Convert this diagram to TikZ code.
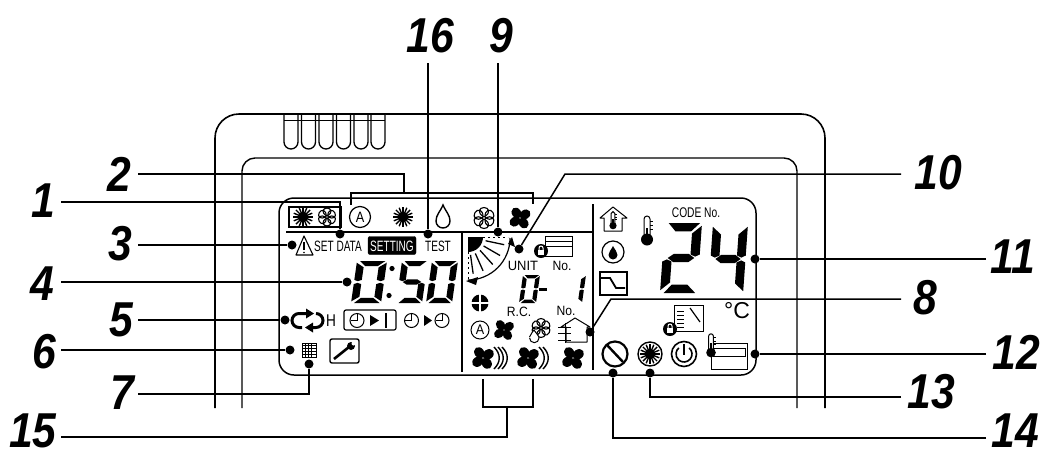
\documentclass[tikz,border=0pt]{standalone}
\usepackage{fontspec}
\setmainfont{Liberation Sans}
\tikzset{
  lead/.style={line width=1.5pt,black},
  body/.style={line width=1.6pt,black,rounded corners=24pt},
  inner/.style={line width=1.4pt,black,rounded corners=13pt},
  lcd/.style={line width=1.5pt,black,rounded corners=15pt},
  dotn/.style={circle,fill=black,inner sep=0pt,minimum size=9pt},
  lab/.style={font=\fontsize{49}{49}\selectfont\bfseries\itshape,xscale=.87,inner sep=0pt,black},
  txt/.style={inner sep=0pt,black,font=\fontsize{#1}{#1}\selectfont},
  icon/.style={line width=1pt,black},
}
\newcommand\sgA{\fill (.1,0)--(.95,0)--(.72,.12)--(.3,.12)--cycle;}
\newcommand\sgB{\fill (1,.04)--(1,.45)--(.88,.48)--(.75,.45)--(.75,.15)--cycle;}
\newcommand\sgC{\fill (1,.55)--(1,.96)--(.75,.85)--(.75,.55)--(.88,.52)--cycle;}
\newcommand\sgD{\fill (.1,1)--(.95,1)--(.72,.88)--(.3,.88)--cycle;}
\newcommand\sgE{\fill (0,.55)--(0,.96)--(.25,.85)--(.25,.55)--(.12,.52)--cycle;}
\newcommand\sgF{\fill (0,.04)--(0,.45)--(.12,.48)--(.25,.45)--(.25,.15)--cycle;}
\newcommand\sgG{\fill (.14,.5)--(.3,.44)--(.7,.44)--(.86,.5)--(.7,.56)--(.3,.56)--cycle;}
% x y w h slant segments
\newcommand\segdigit[6]{\begin{scope}[shift={(#1,#2)},x={(#3pt,0pt)},y={(-#5pt,-#4pt)}]#6\end{scope}}
\newcommand\fanicon[3]{\begin{scope}[shift={(#1,#2)},scale=#3]
 \foreach \a in {35,125,215,305}{\fill[rotate=\a] (.56,0) ellipse[x radius=.52,y radius=.42];}
 \end{scope}}
\newcommand\flowericon[3]{\begin{scope}[shift={(#1,#2)},scale=#3]
 \foreach \a in {0,60,...,300}{\draw[icon,line width=1.1pt,rotate=\a] (0,-.12) .. controls (-.75,-.5) and (-.5,-1.05) .. (0,-1.05) .. controls (.5,-1.05) and (.75,-.5) .. (0,-.12);}
 \end{scope}}
\newcommand\sunicon[2]{\begin{scope}[shift={(#1,#2)}]
 \fill circle[radius=5];
 \foreach \a in {0,22.5,...,337.5}{\draw[line width=1.4pt,rotate=\a] (4,0)--(10,0);}
 \end{scope}}
\newcommand\clockicon[3]{\begin{scope}[shift={(#1,#2)}]
 \draw[icon] circle[radius=#3];
 \draw[icon] (0,-#3*.9)--(0,0)--(-#3*.9,0);
 \end{scope}}
\newcommand\thermo[3]{\begin{scope}[shift={(#1,#2)},scale=#3]
 \draw[icon,fill=white] (-3,9) -- (-3,-11) arc[start angle=180,end angle=360,radius=3] -- (3,9);
 \fill (0,9.5) circle[radius=6];
 \fill (-1.2,-2) rectangle (1.2,10);
 \foreach \v in {-9,-5,-1}{\draw[line width=.8pt] (3,\v)--(6,\v);}
 \end{scope}}
\newcommand\lockicon[2]{\begin{scope}[shift={(#1,#2)}]
 \fill circle[radius=7];
 \fill[white] (-3,-1) rectangle (3,4);
 \draw[white,line width=1pt] (-2,-1) -- (-2,-3) arc[start angle=180,end angle=360,radius=2] -- (2,-1);
 \end{scope}}
\begin{document}
\begin{tikzpicture}[x=1pt,y=-1pt,line cap=butt]
\useasboundingbox (0,0) rectangle (1040,453);
\fill[white] (0,0) rectangle (1040,453);

% housing
\coordinate (bl1) at (215,408);\coordinate (bt1) at (215,114);\coordinate (bt2) at (284,114);
\coordinate (bt3) at (825,114);\coordinate (br1) at (825,408);\coordinate (bt4) at (385,114);
\draw[body] (bl1)--(bt1)--(bt2);
\draw[body] (bt4)--(bt3)--(br1);
\foreach \a in {284,301.5,319,336.5,354,371}{
  \draw[fill=white,line width=1.3pt] (\a,114) -- (\a,142) arc[start angle=180,end angle=0,radius=7] -- (\a+14,114);
}
\draw[line width=1.6pt] (284,114)--(385,114);
\draw[line width=1pt] (284,120)--(385,120);
\coordinate (il) at (242,408);\coordinate (it1) at (242,158);\coordinate (it2) at (797,158);\coordinate (ir) at (797,408);
\draw[inner] (il)--(it1)--(it2)--(ir);

% LCD frame
\fill[white,rounded corners=15pt] (279,198) rectangle (756,375);
\draw[lcd] (279,198) rectangle (756,375);
\draw[line width=1.4pt] (286,232)--(593,232);
\draw[line width=1.4pt] (462,232)--(462,372);
\draw[line width=1.4pt] (593,204)--(593,370);

% top row icons
\draw[line width=1.2pt,fill=white] (289,207) rectangle (341,227);
\sunicon{303}{217}
\flowericon{327}{217}{8.5}
\draw[icon,line width=1.2pt] (360,217) circle[radius=10.5];
\node[txt=15,xscale=.85] (a1) at (360,217) {A};
\sunicon{403}{217}
\draw[icon,line width=1.4pt] (443,205) .. controls (440,212) and (436,215) .. (436,221) arc[start angle=180,end angle=0,radius=7] .. controls (450,215) and (446,212) .. (443,205) -- cycle;
\flowericon{484}{218}{10}
\fanicon{520}{218}{11}

% text row
\node[txt=15,xscale=.67] (t1) at (338,246) {SET DATA};
\node[draw=black,fill=black,rounded corners=2pt,minimum width=48pt,minimum height=18pt,inner sep=0pt] (t2box) at (392,245.5) {};
\node[txt=15,xscale=.67,text=white] (t2) at (392,246) {SETTING};
\node[txt=15,xscale=.67] (t3) at (438,246) {TEST};
\draw[line width=1.1pt,line join=round] (304,236)--(296,255)--(313,255)--cycle;
\draw[line width=1.2pt] (304,242)--(304,250);
\fill (304,252.5) circle[radius=.8];

% 0:50
\segdigit{357}{261}{30}{42}{6}{\sgA\sgB\sgC\sgD\sgE\sgF}
\fill (392,268.5) circle[radius=2.6];
\fill (389,295.5) circle[radius=2.6];
\segdigit{402}{261}{26}{42}{6}{\sgA\sgF\sgG\sgC\sgD}
\segdigit{432}{261}{26}{42}{6}{\sgA\sgB\sgC\sgD\sgE\sgF}

% cycle, H, timers
\draw[line width=3pt] (307,313.5) -- (299,313.5) arc[start angle=270,end angle=90,radius=7] -- (302,327.5);
\draw[line width=3pt] (311,327.5) -- (316,327.5) arc[start angle=90,end angle=-90,radius=7];
\fill (306,308.5)--(306,318.5)--(314,313.5)--cycle;
\fill (313,322.5)--(313,332.5)--(305,327.5)--cycle;
\node[txt=17,xscale=.8] (h1) at (331,321) {H};
\draw[icon,line width=1.2pt,rounded corners=2pt] (344,310) rectangle (396,330);
\clockicon{357}{320.5}{7}
\fill (370,315)--(379,320.5)--(370,326)--cycle;
\draw[line width=1.2pt] (386,313)--(386,328);
\clockicon{411.5}{320.5}{7}
\fill (424,315)--(432,320.5)--(424,326)--cycle;
\clockicon{442}{320.5}{7}

% grid and wrench
\draw[line width=1pt] (302,343) rectangle (316,357);
\foreach \v in {345.8,348.6,351.4,354.2}{
  \draw[line width=.8pt] (302,\v)--(316,\v);
  \draw[line width=.8pt] (\v-43,343)--(\v-43,357);
}
\draw[icon,line width=1.4pt,rounded corners=2pt] (330,339) rectangle (359,363);
\draw[line width=2.6pt] (334,359)--(349,347);
\fill (351,346) circle[radius=4];
\fill[white] (353.5,343.5) circle[radius=2];

% swing
\fill (468,237)--(483,237) arc[start angle=0,end angle=90,radius=15] -- cycle;
\draw[line width=1.2pt] (510,238) arc[start angle=0,end angle=90,radius=42];
\fill (512,237)--(515,247)--(508,244)--cycle;
\fill (466,281)--(478,277)--(476,285)--cycle;
\foreach \a in {12,30,48,66,82}{\draw[line width=1.3pt,rotate around={-\a:(468,237)}] (486,237)--(505,237);}
\draw[line width=1pt,dash pattern=on 2pt off 3pt] (468,252)--(468,280);
\draw[line width=1pt,dash pattern=on 2pt off 3pt] (483,237)--(508,237);

% unit area
\draw[line width=1pt] (545,236) rectangle (572,256);
\draw[line width=1pt] (545,241)--(572,241);
\draw[line width=1pt] (545,246)--(572,246);
\lockicon{541}{251}
\node[txt=13.5,xscale=.96] (t4) at (523,266) {UNIT};
\node[txt=13.5,xscale=.9] (t5) at (562,266) {No.};
\segdigit{523}{275}{17}{28}{4}{\sgA\sgB\sgC\sgD\sgE\sgF}
\fill (539,287.5) rectangle (547,291);
\segdigit{569}{275}{17}{28}{4}{\sgB\sgC}
\node[txt=13.5,xscale=.9] (t6) at (519,312) {R.C.};
\node[txt=13.5,xscale=.9] (t7) at (566,311) {No.};

% small cross circle
\fill (480,303) circle[radius=8.5];
\draw[white,line width=1.2pt] (471,303)--(489,303) (480,294)--(480,312);

% fan row
\fanicon{504}{330}{10.5}
\draw[icon] (480,330) circle[radius=9];
\node[txt=14,xscale=.9] (a2) at (480,330) {A};
\flowericon{541}{328}{9}
\draw[icon,fill=white] (529.5,337) .. controls (531,334) and (533,331) .. (534,330) .. controls (536,333) and (539,336) .. (539,338) arc[start angle=0,end angle=180,radius=4.7];
% house with arrows
\draw[icon,line join=round] (566,342)--(587,342)--(587,327)--(590,327)--(575,318)--(561,327)--(566,327)--cycle;
\draw[icon] (558,327)--(571,327) (558,333)--(571,333) (558,340)--(571,340) (565,323)--(565,343);
% bottom fans
\fanicon{483}{358}{11.5}
\foreach \r in {0,4,8}{\draw[line width=1.4pt] (494+\r,347) .. controls (501+\r,354) and (501+\r,362) .. (494+\r,369);}
\fanicon{528}{358}{11.5}
\foreach \r in {0,4}{\draw[line width=1.4pt] (539+\r,347) .. controls (546+\r,354) and (546+\r,362) .. (539+\r,369);}
\fanicon{573}{358}{11.5}

% right panel icons
\draw[icon,line join=round] (604,231)--(604,218)--(600,218)--(613,207)--(627,218)--(622,218)--(622,231)--cycle;
\thermo{613}{220}{.6}
\draw[icon,line width=1.2pt] (613,252) circle[radius=11];
\fill (613,246) .. controls (611,250) and (608.5,252) .. (608.5,255) arc[start angle=180,end angle=0,radius=4.5] .. controls (617.5,252) and (615,250) .. (613,246);
\draw[icon,line width=1.2pt] (600,272) rectangle (627,295);
\draw[line width=1.8pt] (601,278)--(610,278)--(616,288)--(625,288);
\thermo{647}{230}{1}
\node[txt=14,xscale=.73] (t8) at (696,213) {CODE No.};
\segdigit{665}{223}{37}{70}{5}{\sgA\sgB\sgG\sgE\sgD}
\segdigit{713}{224}{35}{70}{5}{\sgF\sgG\sgB\sgC}
\node[font=\fontsize{23}{23}\selectfont,inner sep=0pt] (t9) at (737,311) {°C};
\draw[icon] (674,305) rectangle (703,331);
\draw[line width=1.2pt] (690,308)--(700,322);
\foreach \v in {311,315,319,323,327}{\draw[line width=1pt] (677,\v)--(684,\v);}
\lockicon{670}{329}
\draw[icon] (711,343) rectangle (747,369);
\draw[icon] (713,348) rectangle (745,356);
\thermo{711}{345}{.8}

% bottom circles
\draw[line width=2.2pt] (615,354) circle[radius=12.5];
\draw[line width=2.4pt] (607,345)--(623,362);
\draw[line width=1.4pt] (650,354) circle[radius=12];
\sunicon{650}{354}
\draw[line width=1.6pt] (684,354) circle[radius=12.5];
\draw[line width=1.6pt] (684,354) +(-50:8) arc[start angle=-50,end angle=230,radius=8];
\draw[line width=2pt] (684,344)--(684,355);

% number labels
\node[lab] (n1) at (43,201) {1};
\node[lab] (n2) at (119,174) {2};
\node[lab] (n3) at (120,244) {3};
\node[lab] (n4) at (42,284) {4};
\node[lab] (n5) at (121,320) {5};
\node[lab] (n6) at (44,352) {6};
\node[lab] (n7) at (122,393) {7};
\node[lab] (n15) at (33,431) {15};
\node[lab] (n16) at (430,36) {16};
\node[lab] (n9) at (501,36) {9};
\node[lab] (n10) at (938,173) {10};
\node[lab] (n8) at (925,298) {8};
\node[lab] (n11) at (1013,257) {11};
\node[lab] (n12) at (1016,352) {12};
\node[lab] (n13) at (931,392) {13};
\node[lab] (n14) at (1015,431) {14};

% dots
\node[dotn] (d1) at (340,234) {};
\node[dotn] (d3) at (292,245) {};
\node[dotn] (d4) at (347,282) {};
\node[dotn] (d5) at (285,320) {};
\node[dotn] (d6) at (290,350) {};
\node[dotn] (d7) at (309,364) {};
\node[dotn] (d16) at (428,234) {};
\node[dotn] (d9) at (498,232) {};
\node[dotn] (d10) at (519,249) {};
\node[dotn] (d8) at (590,332) {};
\node[dotn] (d11) at (755,259) {};
\node[dotn] (d12) at (755,354) {};
\node[dotn] (d13) at (650,373) {};
\node[dotn] (d14) at (613,373) {};

% free ends
\coordinate (c1) at (61,202);\coordinate (c2) at (138,174);\coordinate (c3) at (138,245);
\coordinate (c4) at (61,282);\coordinate (c5) at (138,320);\coordinate (c6) at (61,350);
\coordinate (c7) at (138,394);\coordinate (c15) at (61,437);\coordinate (c16) at (428,63);
\coordinate (c9) at (498,63);\coordinate (c10) at (901,174);\coordinate (e10) at (565,174);
\coordinate (c8) at (901,299);\coordinate (e8) at (611,299);\coordinate (c11) at (986,259);
\coordinate (c12) at (986,354);\coordinate (c13) at (901,397);\coordinate (c14) at (986,438);
\coordinate (b2l) at (351,205);\coordinate (b2a) at (351,193);\coordinate (b2b) at (533,193);\coordinate (b2r) at (533,204);
\coordinate (b2m) at (404,193);
\coordinate (b15l) at (483,379);\coordinate (b15a) at (483,407);\coordinate (b15b) at (533,407);\coordinate (b15r) at (533,379);
\coordinate (b15m) at (507,407);

% leaders
\draw[lead] (c1) -| (d1);
\draw[lead] (c2) -| (b2m);
\draw[lead] (b2l)--(b2a)--(b2b)--(b2r);
\draw[lead] (c3) -- (d3);
\draw[lead] (c4) -- (d4);
\draw[lead] (c5) -- (d5);
\draw[lead] (c6) -- (d6);
\draw[lead] (c7) -| (d7);
\draw[lead] (c15) -| (b15m);
\draw[lead] (b15l)--(b15a)--(b15b)--(b15r);
\draw[lead] (c16) -- (d16);
\draw[lead] (c9) -- (d9);
\draw[lead] (c10)--(e10)--(d10);
\draw[lead] (c8)--(e8)--(d8);
\draw[lead] (c11)--(d11);
\draw[lead] (c12)--(d12);
\draw[lead] (c13) -| (d13);
\draw[lead] (c14) -| (d14);
\end{tikzpicture}
\end{document}
